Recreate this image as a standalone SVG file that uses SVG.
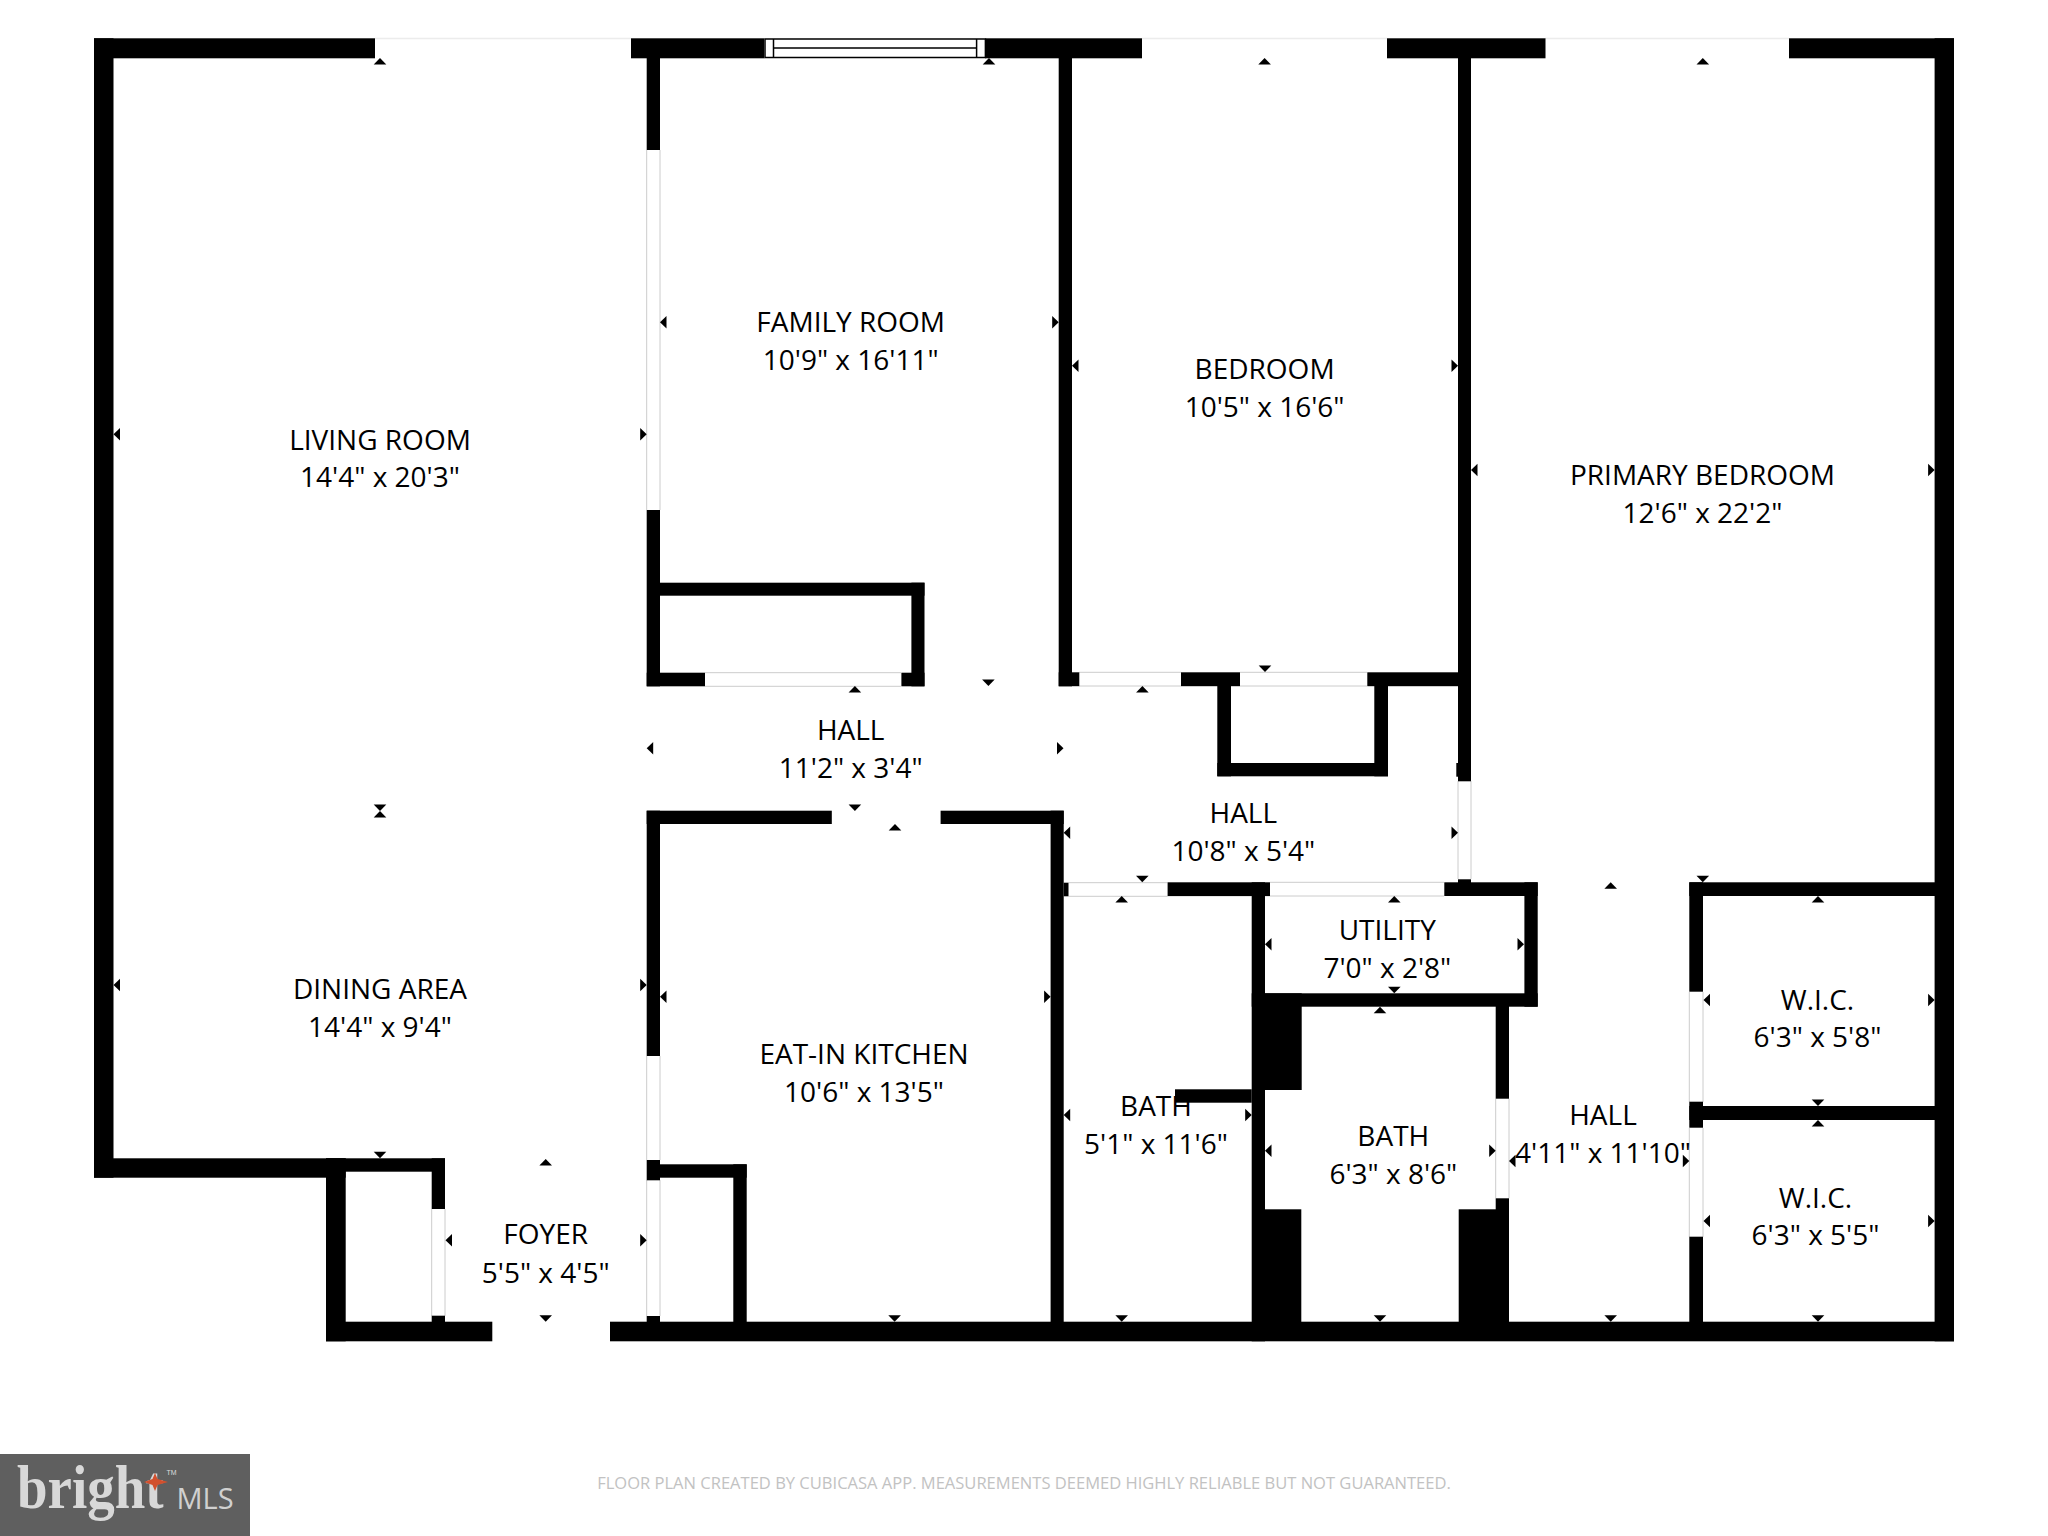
<svg xmlns="http://www.w3.org/2000/svg" xmlns:xlink="http://www.w3.org/1999/xlink" width="2048" height="1536" viewBox="0 0 2048 1536">
<style>
.w{fill:#000}
.d{stroke:#ccc;stroke-width:1;fill:none}
.o{stroke:#ececec;stroke-width:1.5;fill:none}
.g{stroke:#000;stroke-width:1.5;fill:#fff}
.t{font-family:"Open Sans","Noto Sans","Liberation Sans",sans-serif;font-size:28px;fill:#000;text-anchor:middle}
.f{font-family:"Open Sans","Noto Sans","Liberation Sans",sans-serif;font-size:16.55px;fill:#c2c2c2;text-anchor:middle}
</style>
<defs>
<path id="u" d="M0 0L-6.3 6.5L6.3 6.5Z"/>
<path id="n" d="M0 0L-6.3 -6.5L6.3 -6.5Z"/>
<path id="l" d="M0 0L6.5 -6.3L6.5 6.3Z"/>
<path id="r" d="M0 0L-6.5 -6.3L-6.5 6.3Z"/>
</defs>
<rect width="2048" height="1536" fill="#fff"/>
<g id="openings">
<path class="o" d="M375 38.5H631M1142 38.5H1387M1545 38.5H1789"/>
<path class="d" d="M646.7 150V510M660 150V510M646.7 1056V1160M660 1056V1160M646.7 1180V1316M660 1180V1316M431.7 1209V1316M445 1209V1316M1458 781V879M1471 781V879M1495.7 1098.7V1198.3M1509 1098.7V1198.3M1689.3 992V1102M1703 992V1102M1689.3 1128V1237M1703 1128V1237M705 672.7H901M705 686.3H901M1079 672.3H1181M1079 686H1181M1240 672.3H1367M1240 686H1367M1068.5 882.7H1167.6M1068.5 896.3H1167.6M1270 882.3H1444M1270 896H1444"/>
</g>
<g id="walls">
<rect class="w" x="94" y="38.3" width="281" height="20"/>
<rect class="w" x="94" y="38.3" width="19.5" height="1139.4"/>
<rect class="w" x="631" y="38.3" width="133.4" height="20"/>
<rect class="w" x="985" y="38.3" width="157" height="20"/>
<rect class="w" x="1387" y="38.3" width="158.5" height="20"/>
<rect class="w" x="1789" y="38.3" width="165" height="20"/>
<rect class="w" x="1934.6" y="38.3" width="19.4" height="1303"/>
<rect class="w" x="646.7" y="58" width="13.3" height="92"/>
<rect class="w" x="646.7" y="510" width="13.3" height="176.3"/>
<rect class="w" x="660" y="582.7" width="264.5" height="13"/>
<rect class="w" x="911.4" y="582.7" width="13.1" height="103.6"/>
<rect class="w" x="646.7" y="672.7" width="58.3" height="13.6"/>
<rect class="w" x="901.4" y="672.7" width="23.1" height="13.6"/>
<rect class="w" x="1058.7" y="58" width="13.3" height="628.3"/>
<rect class="w" x="1058.7" y="672.3" width="20.6" height="13.9"/>
<rect class="w" x="1181" y="672.3" width="59" height="13.9"/>
<rect class="w" x="1367.3" y="672.3" width="90.7" height="13.9"/>
<rect class="w" x="1217.3" y="686" width="13.7" height="90.3"/>
<rect class="w" x="1217.3" y="763" width="170.7" height="13.3"/>
<rect class="w" x="1374.3" y="686" width="13.7" height="90.3"/>
<rect class="w" x="1458" y="58" width="13" height="723.3"/>
<rect class="w" x="1456.3" y="763" width="14" height="13.7"/>
<rect class="w" x="1458" y="879.3" width="13" height="5"/>
<rect class="w" x="646.7" y="810.7" width="185.1" height="13.3"/>
<rect class="w" x="940.6" y="810.7" width="123.1" height="13.3"/>
<rect class="w" x="646.7" y="810.7" width="13.3" height="245.3"/>
<rect class="w" x="1050.6" y="810.7" width="13.1" height="520"/>
<rect class="w" x="1063.7" y="882.7" width="4.8" height="13.6"/>
<rect class="w" x="1167.6" y="882.3" width="102.4" height="13.8"/>
<rect class="w" x="1444.3" y="882.3" width="93.4" height="13.7"/>
<rect class="w" x="1251.7" y="882.3" width="13.3" height="459"/>
<rect class="w" x="1524.4" y="882.3" width="13.3" height="124.4"/>
<rect class="w" x="1251.7" y="993.3" width="286" height="13.4"/>
<rect class="w" x="1265" y="993.3" width="36.7" height="96.7"/>
<rect class="w" x="1265" y="1209.3" width="36.3" height="120"/>
<rect class="w" x="1458.7" y="1209.3" width="50.3" height="120"/>
<rect class="w" x="1495.7" y="1000" width="13.3" height="98.7"/>
<rect class="w" x="1495.7" y="1198.3" width="13.3" height="30"/>
<rect class="w" x="1175" y="1089.3" width="76.7" height="13.4"/>
<rect class="w" x="1689.3" y="882.3" width="13.7" height="109.4"/>
<rect class="w" x="1689.3" y="1101.7" width="13.7" height="26"/>
<rect class="w" x="1689.3" y="1236.7" width="13.7" height="90"/>
<rect class="w" x="1689.3" y="882.3" width="250" height="13.7"/>
<rect class="w" x="1689.3" y="1106" width="250" height="14"/>
<rect class="w" x="94" y="1158.3" width="251.7" height="19.4"/>
<rect class="w" x="326" y="1158.3" width="119" height="13.4"/>
<rect class="w" x="326" y="1158.3" width="19.7" height="183"/>
<rect class="w" x="431.7" y="1158.3" width="13.3" height="50.7"/>
<rect class="w" x="431.7" y="1315.7" width="13.3" height="10"/>
<rect class="w" x="326" y="1321.7" width="166.3" height="19.6"/>
<rect class="w" x="610" y="1321.7" width="1344" height="19.6"/>
<rect class="w" x="646.7" y="1160" width="13.3" height="20.3"/>
<rect class="w" x="646.7" y="1316" width="13.3" height="10"/>
<rect class="w" x="660" y="1164.3" width="86.7" height="13.4"/>
<rect class="w" x="733.3" y="1164.3" width="13.4" height="160"/>
</g>
<g id="window">
<rect x="764.4" y="38.3" width="221" height="20" fill="#fff"/>
<rect class="g" x="765" y="39" width="220.4" height="18.5"/>
<path class="g" d="M773.5 39V57.5M976.6 39V57.5M773.5 48H976.6"/>
</g>
<g id="ticks">
<use href="#u" x="380" y="58"/><use href="#u" x="989" y="58"/><use href="#u" x="1264.6" y="58"/><use href="#u" x="1702.8" y="58"/>
<use href="#l" x="113.5" y="434.3"/><use href="#r" x="646.7" y="434.3"/>
<use href="#l" x="660" y="322.3"/><use href="#r" x="1058.7" y="322.3"/>
<use href="#l" x="1072" y="365.7"/><use href="#r" x="1458" y="365.7"/>
<use href="#n" x="1265" y="672"/><use href="#n" x="988.4" y="686"/><use href="#u" x="854.9" y="686"/><use href="#u" x="1142.4" y="686"/>
<use href="#l" x="646.7" y="748.3"/><use href="#r" x="1063.5" y="748.3"/>
<use href="#n" x="854.9" y="811"/><use href="#u" x="895" y="824"/>
<use href="#l" x="660" y="996.7"/><use href="#r" x="1050.6" y="996.7"/>
<use href="#r" x="646.7" y="985"/><use href="#l" x="113.5" y="985"/>
<use href="#n" x="380" y="811"/><use href="#u" x="380" y="811"/>
<use href="#n" x="380" y="1158.3"/>
<use href="#u" x="545.7" y="1159"/><use href="#n" x="545.7" y="1321.7"/><use href="#l" x="445.5" y="1240.3"/><use href="#r" x="646.7" y="1240.3"/>
<use href="#l" x="1063.7" y="832.7"/><use href="#r" x="1458" y="832.7"/><use href="#n" x="1142.3" y="882.3"/>
<use href="#u" x="1121.7" y="896"/><use href="#u" x="1394.3" y="896"/>
<use href="#l" x="1265" y="944.3"/><use href="#r" x="1524" y="944.3"/><use href="#n" x="1394.3" y="993.3"/>
<use href="#u" x="1380" y="1006.7"/><use href="#n" x="1380" y="1321.7"/><use href="#l" x="1265" y="1150.7"/><use href="#r" x="1495.7" y="1150.7"/>
<use href="#r" x="1251.7" y="1115"/><use href="#l" x="1063.7" y="1115"/><use href="#n" x="1121.7" y="1321.7"/>
<use href="#n" x="894.6" y="1321.7"/>
<use href="#l" x="1509" y="1161"/><use href="#r" x="1689.3" y="1161"/><use href="#n" x="1610.7" y="1321.7"/><use href="#u" x="1610.7" y="882.3"/>
<use href="#n" x="1702.8" y="882.3"/>
<use href="#l" x="1471" y="470"/><use href="#r" x="1934.6" y="470"/>
<use href="#u" x="1818" y="896"/><use href="#n" x="1818" y="1106"/><use href="#l" x="1703.5" y="1000"/><use href="#r" x="1934.6" y="1000"/>
<use href="#u" x="1818" y="1120"/><use href="#l" x="1703.5" y="1221"/><use href="#r" x="1934.6" y="1221"/><use href="#n" x="1818" y="1321.7"/>
</g>
<g id="labels">
<g id="living-room"><text class="t" x="380" y="450">LIVING ROOM</text><text class="t" x="380" y="487.3">14'4" x 20'3"</text></g>
<g id="family-room"><text class="t" x="850.7" y="331.7">FAMILY ROOM</text><text class="t" x="850.7" y="370">10'9" x 16'11"</text></g>
<g id="bedroom"><text class="t" x="1264.6" y="378.5">BEDROOM</text><text class="t" x="1264.6" y="416.5">10'5" x 16'6"</text></g>
<g id="primary-bedroom"><text class="t" x="1702.5" y="485">PRIMARY BEDROOM</text><text class="t" x="1702.5" y="523">12'6" x 22'2"</text></g>
<g id="hall-1"><text class="t" x="850.7" y="740">HALL</text><text class="t" x="850.7" y="778">11'2" x 3'4"</text></g>
<g id="hall-2"><text class="t" x="1243.3" y="823">HALL</text><text class="t" x="1243.3" y="860.7">10'8" x 5'4"</text></g>
<g id="dining-area"><text class="t" x="380" y="999">DINING AREA</text><text class="t" x="380" y="1036.5">14'4" x 9'4"</text></g>
<g id="kitchen"><text class="t" x="864" y="1064">EAT-IN KITCHEN</text><text class="t" x="864" y="1101.5">10'6" x 13'5"</text></g>
<g id="utility"><text class="t" x="1387.3" y="940">UTILITY</text><text class="t" x="1387.3" y="978.3">7'0" x 2'8"</text></g>
<g id="bath-1"><text class="t" x="1156" y="1116">BATH</text><text class="t" x="1156" y="1153.5">5'1" x 11'6"</text></g>
<g id="bath-2"><text class="t" x="1393.3" y="1145.7">BATH</text><text class="t" x="1393.3" y="1184">6'3" x 8'6"</text></g>
<g id="hall-3"><text class="t" x="1603" y="1124.6">HALL</text><text class="t" x="1603" y="1162.5">4'11" x 11'10"</text></g>
<g id="wic-1"><text class="t" x="1817.5" y="1010">W.I.C.</text><text class="t" x="1817.5" y="1047">6'3" x 5'8"</text></g>
<g id="wic-2"><text class="t" x="1815.5" y="1208">W.I.C.</text><text class="t" x="1815.5" y="1245">6'3" x 5'5"</text></g>
<g id="foyer"><text class="t" x="545.7" y="1244">FOYER</text><text class="t" x="545.7" y="1283">5'5" x 4'5"</text></g>
</g>
<text class="f" x="1024" y="1489">FLOOR PLAN CREATED BY CUBICASA APP. MEASUREMENTS DEEMED HIGHLY RELIABLE BUT NOT GUARANTEED.</text>
<g id="logo">
<rect x="0" y="1454" width="250" height="82" fill="#5f5f5f"/>
<text transform="translate(17 1508) scale(1 1.1)" font-family="Liberation Serif,serif" font-size="55" font-weight="700" fill="#d8d8d8">bright</text>
<path d="M155 1473L157.5 1479L168 1482L157.5 1485L155 1491L152.5 1485L144 1482L152.5 1479Z" fill="#d2502e"/>
<text x="166.5" y="1475" font-family="Liberation Sans,sans-serif" font-size="7" fill="#dcdcdc">TM</text>
<text x="176.5" y="1509" font-family="Open Sans,Liberation Sans,sans-serif" font-size="29" fill="#d0d0d0">MLS</text>
</g>
</svg>
